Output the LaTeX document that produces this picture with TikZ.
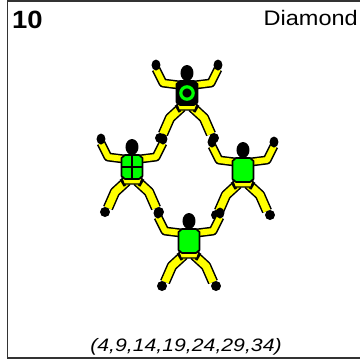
\documentclass[tikz,border=0pt]{standalone}
\usepackage{graphicx}
\usepackage{fontspec}
\setmainfont{Liberation Sans}
\usepackage{tikz}

\definecolor{suit}{RGB}{255,255,0}
\definecolor{vest}{RGB}{0,255,0}
\newcommand{\torsopath}{(-7,-12) -- (7,-12) -- (10.5,-9) -- (10.5,9) -- (7,12) -- (-7,12) -- (-10.5,9) -- (-10.5,-9) -- cycle}

\begin{document}
\begin{tikzpicture}[x=1pt,y=-1pt,
	arm/.style={line width=1.5pt,double=suit,double distance=6pt,line join=round},
	leg/.style={line width=1.5pt,double=suit,double distance=7.5pt,line join=round},
	pics/jumper/.style={code={
		\foreach \s in {-1,1}{
			\draw[leg] (\s*5,14) -- (\s*17,25) -- (\s*24,41);
			\draw[arm] (\s*8,-8) -- (\s*24,-10) -- (\s*31,-24);
			\fill (\s*31,-28) ellipse (4.5 and 5.5);
			\fill (\s*27,45) circle (5);
			\draw[line width=3pt] (\s*11,12) -- (\s*7,19);
		}
		\filldraw[fill=suit,line width=1.2pt] (-10,11) -- (10,11) -- (8,17) -- (-8,17) -- cycle;
		\filldraw[fill=vest,line width=1.6pt] \torsopath;
		\fill (0,-20) ellipse (6.5 and 8);
		\fill (-3,-14) rectangle (3,-11);
		#1
	}},
	pics/jumper/.default={}]
	\useasboundingbox (0,0) rectangle (360,360);
	\draw[line width=1.5pt,black!80] (360,0.75) -- (7.5,0.75) -- (7.5,358) -- (360,358);
	\node[anchor=base west,inner sep=0,font=\bfseries\fontsize{25}{25}\selectfont] (number) at (12,28) {\scalebox{1.1}[1]{10}};
	\node[anchor=base east,inner sep=0,font=\fontsize{21}{21}\selectfont] (name) at (358,25) {\scalebox{1.12}[1]{Diamond}};
	\node[anchor=base,inner sep=0,font=\itshape\fontsize{18}{18}\selectfont] (slots) at (186,351) {\scalebox{1.18}[1]{(4,9,14,19,24,29,34)}};
	% formation
	\pic (top) at (187,93) {jumper={\fill \torsopath; \draw[vest,line width=3.2pt] (0,0) circle (6.2);}};
	\pic (left) at (132,167) {jumper={\draw[line width=2pt] (0,-11) -- (0,12) (-10,0) -- (10,0);}};
	\pic (right) at (243,170) {jumper};
	\pic (bottom) at (189,241) {jumper};
\end{tikzpicture}
\end{document}
